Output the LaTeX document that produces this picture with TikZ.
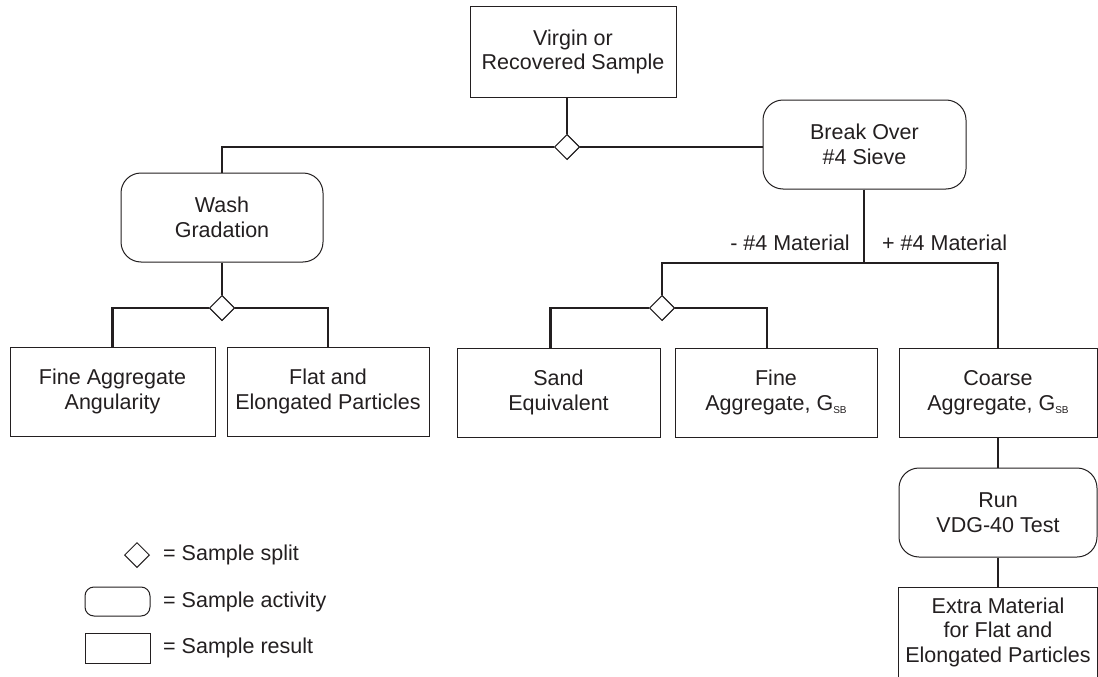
\documentclass[tikz,border=0pt]{standalone}
\usepackage{fontspec}
\setmainfont{Liberation Sans}
\usetikzlibrary{shapes.geometric,calc}
\definecolor{ink}{HTML}{231F20}
\newcommand{\gsb}{G\raisebox{-3pt}{\fontsize{10}{10}\selectfont SB}}
\begin{document}
\begin{tikzpicture}[x=1pt,y=-1pt,
  font=\fontsize{21.5}{24.5}\selectfont,
  result/.style={draw=ink, line width=1pt, align=center, text=ink, inner sep=0pt},
  activity/.style={result, rounded corners=20pt},
  split/.style={diamond, draw=ink, line width=1pt, fill=white, minimum size=25pt, inner sep=0pt, aspect=1},
  link/.style={draw=ink, line width=2.6pt},
  boxline/.style={draw=ink, line width=1pt},
  lbl/.style={text=ink, inner sep=0pt}]
\useasboundingbox (0,0) rectangle (1098,677);
\fill[white] (0,0) rectangle (1098,677);

% nodes
\node[result, minimum width=206pt, minimum height=90pt] (top) at (573,52) {Virgin or\\Recovered Sample};
\node[activity, minimum width=202pt, minimum height=89pt] (wash) at (222,217.5) {Wash\\Gradation};
\node[activity, minimum width=203pt, minimum height=89pt] (break) at (864.5,144.5) {Break Over\\\#4 Sieve};
\node[result, minimum width=205pt, minimum height=89pt] (faa) at (112.5,391.5) {Fine Aggregate\\Angularity};
\node[result, minimum width=202pt, minimum height=89pt] (flat) at (328,391.5) {Flat and\\Elongated Particles};
\node[result, minimum width=203pt, minimum height=89pt] (sand) at (558.5,392.5) {Sand\\Equivalent};
\node[result, minimum width=202pt, minimum height=89pt] (fine) at (776,392.5) {Fine\\Aggregate, \gsb};
\node[result, minimum width=198pt, minimum height=89pt] (coarse) at (998,392.5) {Coarse\\Aggregate, \gsb};
\node[activity, minimum width=198pt, minimum height=89pt] (run) at (998,512.5) {Run\\VDG-40 Test};
\node[align=center, text=ink, inner sep=0pt, minimum width=198pt, minimum height=88pt] (extra) at (998,632) {Extra Material\\for Flat and\\Elongated Particles};
\begin{scope}
\clip (0,0) rectangle (1098,677);
\draw[boxline] ($(extra.south west)+(0,30)$) |- (extra.north east) -- ($(extra.south east)+(0,30)$);
\end{scope}

\node[split] (d1) at (567,147) {};
\node[split] (d2) at (222,308) {};
\node[split] (d3) at (662,308) {};
\coordinate (j) at (864,263);

% connectors
\draw[link] (d1.north |- top.south) -- (d1.north);
\draw[link] (d1.west) -| (wash.north);
\draw[link] (d1.east) -- (d1.east -| break.west);
\draw[link] (wash.south) -- (d2.north);
\draw[link] (d2.west) -| (faa.north);
\draw[link] (d2.east) -| (flat.north);
\draw[link] (break.south -| j) -- (j);
\draw[link] (d3.north) |- (j) -| (coarse.north);
\draw[link] (d3.west) -| ($(sand.north)+(-8,0)$);
\draw[link] (d3.east) -| ($(fine.north)+(-9,0)$);
\draw[link] (coarse.south) -- (run.north);
\draw[link] (run.south) -- (extra.north);

% redraw diamonds on top
\node[split] at (d1) {};
\node[split] at (d2) {};
\node[split] at (d3) {};

% branch labels
\node[lbl, anchor=east] (minus) at (850,243) {- \#4 Material};
\node[lbl, anchor=west] (plus) at (882,243) {+ \#4 Material};

% legend
\node[split] (lsplit) at (137,555) {};
\node[lbl, anchor=west] (tsplit) at (163,555) {= Sample split};
\node[activity, rounded corners=9pt, minimum width=65pt, minimum height=29pt] (lact) at (117.5,601.5) {};
\node[lbl, anchor=west] (tact) at (163,601.5) {= Sample activity};
\node[result, minimum width=65pt, minimum height=30pt] (lres) at (117.5,648) {};
\node[lbl, anchor=west] (tres) at (163,648) {= Sample result};
\end{tikzpicture}
\end{document}
